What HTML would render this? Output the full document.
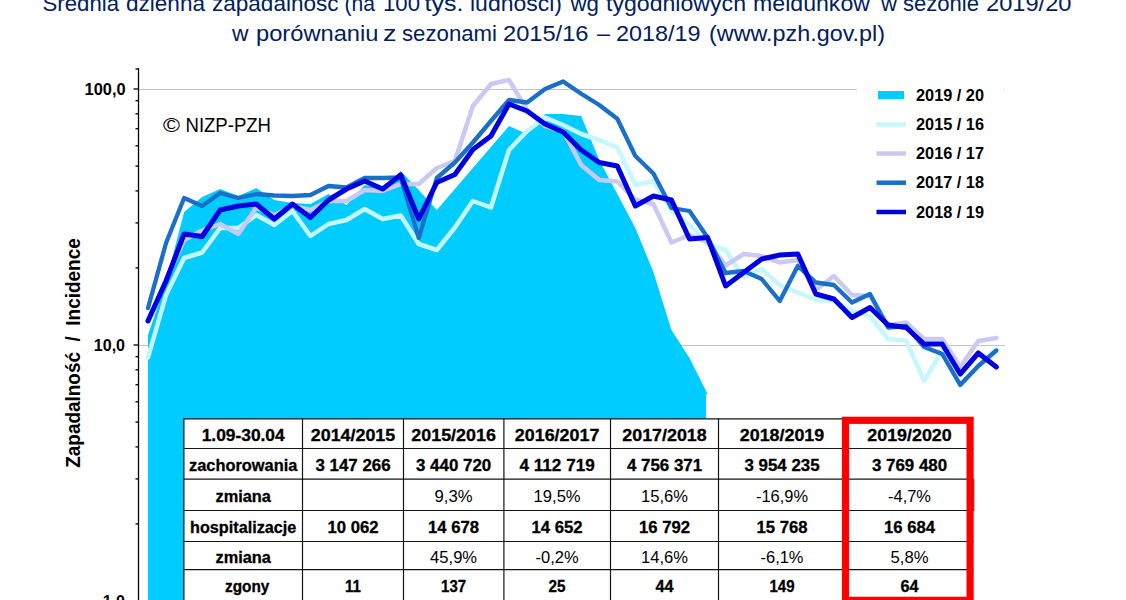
<!DOCTYPE html>
<html><head><meta charset="utf-8"><style>
html,body{margin:0;padding:0;background:#fff;width:1126px;height:600px;overflow:hidden}
svg{display:block;font-family:"Liberation Sans",sans-serif}
</style></head><body>
<svg width="1126" height="600" viewBox="0 0 1126 600">
<g font-size="22.3" fill="#002060"><text x="42.5" y="10.7" textLength="76.5" lengthAdjust="spacingAndGlyphs">Średnia</text><text x="126.0" y="10.7" textLength="79.0" lengthAdjust="spacingAndGlyphs">dzienna</text><text x="212.0" y="10.7" textLength="126.5" lengthAdjust="spacingAndGlyphs">zapadalność</text><text x="344.5" y="10.7" textLength="30.5" lengthAdjust="spacingAndGlyphs">(na</text><text x="383.0" y="10.7" textLength="37.0" lengthAdjust="spacingAndGlyphs">100</text><text x="424.5" y="10.7" textLength="39.0" lengthAdjust="spacingAndGlyphs">tys.</text><text x="470.0" y="10.7" textLength="92.0" lengthAdjust="spacingAndGlyphs">ludności)</text><text x="570.5" y="10.7" textLength="28.5" lengthAdjust="spacingAndGlyphs">wg</text><text x="606.0" y="10.7" textLength="140.0" lengthAdjust="spacingAndGlyphs">tygodniowych</text><text x="753.0" y="10.7" textLength="117.0" lengthAdjust="spacingAndGlyphs">meldunków</text><text x="881.0" y="10.7" textLength="16.0" lengthAdjust="spacingAndGlyphs">w</text><text x="903.0" y="10.7" textLength="76.0" lengthAdjust="spacingAndGlyphs">sezonie</text><text x="986.0" y="10.7" textLength="85.5" lengthAdjust="spacingAndGlyphs">2019/20</text><text x="232.0" y="40.7" textLength="16.5" lengthAdjust="spacingAndGlyphs">w</text><text x="256.0" y="40.7" textLength="122.5" lengthAdjust="spacingAndGlyphs">porównaniu</text><text x="383.0" y="40.7" textLength="13.5" lengthAdjust="spacingAndGlyphs">z</text><text x="402.0" y="40.7" textLength="95.0" lengthAdjust="spacingAndGlyphs">sezonami</text><text x="503.0" y="40.7" textLength="85.5" lengthAdjust="spacingAndGlyphs">2015/16</text><text x="597.0" y="40.7" textLength="13.0" lengthAdjust="spacingAndGlyphs">–</text><text x="616.0" y="40.7" textLength="84.5" lengthAdjust="spacingAndGlyphs">2018/19</text><text x="709.0" y="40.7" textLength="176.0" lengthAdjust="spacingAndGlyphs">(www.pzh.gov.pl)</text></g>

<line x1="139" y1="89.5" x2="1005" y2="89.5" stroke="#c4c4c4" stroke-width="1.2"/>
<line x1="139" y1="345.5" x2="1005" y2="345.5" stroke="#c4c4c4" stroke-width="1.2"/>
<polygon points="148.00,335.00 166.05,282.00 184.10,212.00 202.15,197.00 220.20,189.00 238.25,196.00 256.30,188.00 274.35,200.00 292.40,203.00 310.45,204.00 328.50,194.00 346.55,205.00 364.60,185.00 382.65,189.00 400.70,171.00 418.75,190.00 436.80,210.00 454.85,189.00 472.90,168.00 490.95,147.00 509.00,126.00 527.05,134.00 545.10,114.00 563.15,114.00 581.20,116.00 599.25,160.00 617.30,194.00 635.35,228.00 653.40,272.00 671.45,330.00 689.50,358.00 707.55,394.00 706,394 706,601 148.0,601" fill="#00ccff"/>
<polyline points="148.00,357.50 166.05,295.00 184.10,258.00 202.15,252.50 220.20,228.00 238.25,228.00 256.30,215.00 274.35,225.00 292.40,211.00 310.45,236.00 328.50,224.00 346.55,220.00 364.60,209.00 382.65,219.00 400.70,215.50 418.75,244.00 436.80,250.00 454.85,227.50 472.90,201.00 490.95,207.50 509.00,150.00 527.05,131.00 545.10,117.50 563.15,125.00 581.20,134.00 599.25,140.00 617.30,147.50 635.35,185.00 653.40,181.00 671.45,210.00 689.50,225.00 707.55,244.00 725.60,250.00 743.65,277.50 761.70,269.00 779.75,285.00 797.80,292.50 815.85,300.00 833.90,301.00 851.95,311.00 870.00,316.00 888.05,339.00 906.10,340.50 924.15,381.00 942.20,350.00 960.25,384.00 978.30,366.00 996.35,349.00" fill="none" stroke="#c6f7ff" stroke-width="4.5" stroke-linejoin="round" stroke-linecap="round"/>
<polyline points="148.00,320.00 166.05,280.00 184.10,240.00 202.15,230.50 220.20,224.00 238.25,234.00 256.30,207.50 274.35,215.00 292.40,206.00 310.45,210.00 328.50,201.00 346.55,201.00 364.60,190.00 382.65,191.00 400.70,184.00 418.75,184.00 436.80,168.00 454.85,161.00 472.90,106.00 490.95,84.00 509.00,80.00 527.05,110.00 545.10,126.00 563.15,131.00 581.20,165.00 599.25,180.00 617.30,181.50 635.35,199.50 653.40,204.00 671.45,242.50 689.50,235.00 707.55,242.00 725.60,265.50 743.65,254.00 761.70,256.00 779.75,262.50 797.80,260.00 815.85,290.00 833.90,276.00 851.95,295.00 870.00,296.00 888.05,325.00 906.10,322.50 924.15,339.00 942.20,339.00 960.25,367.00 978.30,341.00 996.35,338.00" fill="none" stroke="#c9c9f4" stroke-width="4.5" stroke-linejoin="round" stroke-linecap="round"/>
<polyline points="148.00,308.00 166.05,243.00 184.10,198.00 202.15,206.00 220.20,193.00 238.25,198.00 256.30,194.00 274.35,195.50 292.40,196.00 310.45,195.00 328.50,186.00 346.55,187.50 364.60,178.00 382.65,178.00 400.70,177.50 418.75,238.00 436.80,178.00 454.85,162.50 472.90,142.50 490.95,121.00 509.00,100.00 527.05,102.50 545.10,89.00 563.15,81.50 581.20,93.75 599.25,105.00 617.30,118.75 635.35,156.00 653.40,173.50 671.45,208.00 689.50,211.00 707.55,237.50 725.60,273.00 743.65,271.00 761.70,279.00 779.75,301.00 797.80,266.00 815.85,282.50 833.90,285.00 851.95,302.50 870.00,294.00 888.05,327.50 906.10,326.00 924.15,347.00 942.20,354.00 960.25,385.00 978.30,366.00 996.35,350.50" fill="none" stroke="#1a6fc9" stroke-width="4.3" stroke-linejoin="round" stroke-linecap="round"/>
<polyline points="148.00,321.00 166.05,281.00 184.10,234.00 202.15,236.50 220.20,210.00 238.25,206.00 256.30,204.00 274.35,219.00 292.40,204.00 310.45,217.50 328.50,200.00 346.55,189.00 364.60,181.00 382.65,189.00 400.70,175.00 418.75,219.00 436.80,182.50 454.85,174.50 472.90,149.50 490.95,136.00 509.00,104.00 527.05,111.00 545.10,124.00 563.15,132.00 581.20,150.00 599.25,162.50 617.30,166.00 635.35,206.00 653.40,196.00 671.45,200.00 689.50,239.00 707.55,237.50 725.60,286.00 743.65,272.50 761.70,259.00 779.75,255.00 797.80,254.00 815.85,294.00 833.90,299.00 851.95,317.50 870.00,307.50 888.05,325.00 906.10,327.50 924.15,344.00 942.20,344.00 960.25,374.00 978.30,353.00 996.35,367.00" fill="none" stroke="#0000e0" stroke-width="5" stroke-linejoin="round" stroke-linecap="round"/>
<line x1="138.5" y1="68" x2="138.5" y2="600" stroke="#000" stroke-width="1.3"/>
<line x1="135.5" y1="69.0" x2="138.5" y2="69.0" stroke="#000" stroke-width="1.3"/><line x1="133.5" y1="89.0" x2="138.5" y2="89.0" stroke="#000" stroke-width="1.3"/><line x1="133.5" y1="345.0" x2="138.5" y2="345.0" stroke="#000" stroke-width="1.3"/><line x1="133.5" y1="601.0" x2="138.5" y2="601.0" stroke="#000" stroke-width="1.3"/><line x1="135.5" y1="267.9" x2="138.5" y2="267.9" stroke="#000" stroke-width="1.3"/><line x1="135.5" y1="222.9" x2="138.5" y2="222.9" stroke="#000" stroke-width="1.3"/><line x1="135.5" y1="190.9" x2="138.5" y2="190.9" stroke="#000" stroke-width="1.3"/><line x1="135.5" y1="166.1" x2="138.5" y2="166.1" stroke="#000" stroke-width="1.3"/><line x1="135.5" y1="145.8" x2="138.5" y2="145.8" stroke="#000" stroke-width="1.3"/><line x1="135.5" y1="128.7" x2="138.5" y2="128.7" stroke="#000" stroke-width="1.3"/><line x1="135.5" y1="113.8" x2="138.5" y2="113.8" stroke="#000" stroke-width="1.3"/><line x1="135.5" y1="100.7" x2="138.5" y2="100.7" stroke="#000" stroke-width="1.3"/><line x1="135.5" y1="523.9" x2="138.5" y2="523.9" stroke="#000" stroke-width="1.3"/><line x1="135.5" y1="478.9" x2="138.5" y2="478.9" stroke="#000" stroke-width="1.3"/><line x1="135.5" y1="446.9" x2="138.5" y2="446.9" stroke="#000" stroke-width="1.3"/><line x1="135.5" y1="422.1" x2="138.5" y2="422.1" stroke="#000" stroke-width="1.3"/><line x1="135.5" y1="401.8" x2="138.5" y2="401.8" stroke="#000" stroke-width="1.3"/><line x1="135.5" y1="384.7" x2="138.5" y2="384.7" stroke="#000" stroke-width="1.3"/><line x1="135.5" y1="369.8" x2="138.5" y2="369.8" stroke="#000" stroke-width="1.3"/><line x1="135.5" y1="356.7" x2="138.5" y2="356.7" stroke="#000" stroke-width="1.3"/>
<text x="125.6" y="94.5" text-anchor="end" font-weight="bold" font-size="16" textLength="41" lengthAdjust="spacingAndGlyphs">100,0</text>
<text x="125" y="351" text-anchor="end" font-weight="bold" font-size="16">10,0</text>
<text x="125" y="607" text-anchor="end" font-weight="bold" font-size="16">1,0</text>
<text x="163" y="131.8" font-size="21" textLength="17" lengthAdjust="spacingAndGlyphs">©</text><text x="185.5" y="131.8" font-size="19.5" textLength="85.5" lengthAdjust="spacingAndGlyphs">NIZP-PZH</text>
<text transform="translate(79.7,467.8) rotate(-90)" font-weight="bold" font-size="20" textLength="229.5" lengthAdjust="spacingAndGlyphs" xml:space="preserve">Zapadalność  /  Incidence</text>
<rect x="857" y="75" width="147" height="160" fill="#fff"/><rect x="878" y="91" width="26" height="8" fill="#00ccff"/><line x1="876.5" y1="124.6" x2="906" y2="124.6" stroke="#c6f7ff" stroke-width="4.5"/><line x1="876.5" y1="153.5" x2="906" y2="153.5" stroke="#c9c9f4" stroke-width="4.5"/><line x1="876.5" y1="182.7" x2="906" y2="182.7" stroke="#1a6fc9" stroke-width="4.5"/><line x1="876.5" y1="212" x2="906" y2="212" stroke="#0000e0" stroke-width="4.5"/><text x="916" y="100.6" font-weight="bold" font-size="16" textLength="68" lengthAdjust="spacingAndGlyphs">2019 / 20</text><text x="916" y="130.2" font-weight="bold" font-size="16" textLength="68" lengthAdjust="spacingAndGlyphs">2015 / 16</text><text x="916" y="159.1" font-weight="bold" font-size="16" textLength="68" lengthAdjust="spacingAndGlyphs">2016 / 17</text><text x="916" y="188.29999999999998" font-weight="bold" font-size="16" textLength="68" lengthAdjust="spacingAndGlyphs">2017 / 18</text><text x="916" y="217.6" font-weight="bold" font-size="16" textLength="68" lengthAdjust="spacingAndGlyphs">2018 / 19</text>
<rect x="184" y="419" width="785.5" height="181" fill="#fff"/><line x1="183.4" y1="418.9" x2="973.5" y2="418.9" stroke="#151515" stroke-width="1.2"/><line x1="183.4" y1="448.5" x2="973.5" y2="448.5" stroke="#151515" stroke-width="1.2"/><line x1="183.4" y1="479.2" x2="973.5" y2="479.2" stroke="#151515" stroke-width="1.2"/><line x1="183.4" y1="510.5" x2="973.5" y2="510.5" stroke="#151515" stroke-width="1.2"/><line x1="183.4" y1="541.5" x2="973.5" y2="541.5" stroke="#151515" stroke-width="1.2"/><line x1="183.4" y1="569.6" x2="973.5" y2="569.6" stroke="#151515" stroke-width="1.2"/><line x1="183.9" y1="418.29999999999995" x2="183.9" y2="600" stroke="#151515" stroke-width="1.2"/><line x1="302.5" y1="418.29999999999995" x2="302.5" y2="600" stroke="#151515" stroke-width="1.2"/><line x1="403.5" y1="418.29999999999995" x2="403.5" y2="600" stroke="#151515" stroke-width="1.2"/><line x1="503.9" y1="418.29999999999995" x2="503.9" y2="600" stroke="#151515" stroke-width="1.2"/><line x1="610.5" y1="418.29999999999995" x2="610.5" y2="600" stroke="#151515" stroke-width="1.2"/><line x1="718.5" y1="418.29999999999995" x2="718.5" y2="600" stroke="#151515" stroke-width="1.2"/><line x1="845.5" y1="418.29999999999995" x2="845.5" y2="600" stroke="#151515" stroke-width="1.2"/><line x1="969.5" y1="418.29999999999995" x2="969.5" y2="600" stroke="#151515" stroke-width="1.2"/><text x="243.2" y="440.8" text-anchor="middle" font-weight="bold" stroke="#000" stroke-width="0.3" font-size="16.5" textLength="83" lengthAdjust="spacingAndGlyphs">1.09-30.04</text><text x="353.0" y="440.8" text-anchor="middle" font-weight="bold" stroke="#000" stroke-width="0.3" font-size="16.5" textLength="84.5" lengthAdjust="spacingAndGlyphs">2014/2015</text><text x="453.6" y="440.8" text-anchor="middle" font-weight="bold" stroke="#000" stroke-width="0.3" font-size="16.5" textLength="84.5" lengthAdjust="spacingAndGlyphs">2015/2016</text><text x="557.1" y="440.8" text-anchor="middle" font-weight="bold" stroke="#000" stroke-width="0.3" font-size="16.5" textLength="84.5" lengthAdjust="spacingAndGlyphs">2016/2017</text><text x="664.5" y="440.8" text-anchor="middle" font-weight="bold" stroke="#000" stroke-width="0.3" font-size="16.5" textLength="84.5" lengthAdjust="spacingAndGlyphs">2017/2018</text><text x="782.0" y="440.8" text-anchor="middle" font-weight="bold" stroke="#000" stroke-width="0.3" font-size="16.5" textLength="84.5" lengthAdjust="spacingAndGlyphs">2018/2019</text><text x="909.5" y="440.8" text-anchor="middle" font-weight="bold" stroke="#000" stroke-width="0.3" font-size="16.5" textLength="84.5" lengthAdjust="spacingAndGlyphs">2019/2020</text><text x="243.2" y="471.0" text-anchor="middle" font-weight="bold" stroke="#000" stroke-width="0.3" font-size="16.5" textLength="108.4" lengthAdjust="spacingAndGlyphs">zachorowania</text><text x="353.0" y="471.0" text-anchor="middle" font-weight="bold" stroke="#000" stroke-width="0.3" font-size="16.5" textLength="75.2" lengthAdjust="spacingAndGlyphs">3 147 266</text><text x="453.6" y="471.0" text-anchor="middle" font-weight="bold" stroke="#000" stroke-width="0.3" font-size="16.5" textLength="75.2" lengthAdjust="spacingAndGlyphs">3 440 720</text><text x="557.1" y="471.0" text-anchor="middle" font-weight="bold" stroke="#000" stroke-width="0.3" font-size="16.5" textLength="75.2" lengthAdjust="spacingAndGlyphs">4 112 719</text><text x="664.5" y="471.0" text-anchor="middle" font-weight="bold" stroke="#000" stroke-width="0.3" font-size="16.5" textLength="75.2" lengthAdjust="spacingAndGlyphs">4 756 371</text><text x="782.0" y="471.0" text-anchor="middle" font-weight="bold" stroke="#000" stroke-width="0.3" font-size="16.5" textLength="75.2" lengthAdjust="spacingAndGlyphs">3 954 235</text><text x="909.5" y="471.0" text-anchor="middle" font-weight="bold" stroke="#000" stroke-width="0.3" font-size="16.5" textLength="75.2" lengthAdjust="spacingAndGlyphs">3 769 480</text><text x="243.2" y="502.0" text-anchor="middle" font-weight="bold" stroke="#000" stroke-width="0.3" font-size="16.5" textLength="55.4" lengthAdjust="spacingAndGlyphs">zmiana</text><text x="453.6" y="502.0" text-anchor="middle" font-weight="normal" font-size="16.5" textLength="38" lengthAdjust="spacingAndGlyphs">9,3%</text><text x="557.1" y="502.0" text-anchor="middle" font-weight="normal" font-size="16.5" textLength="47" lengthAdjust="spacingAndGlyphs">19,5%</text><text x="664.5" y="502.0" text-anchor="middle" font-weight="normal" font-size="16.5" textLength="47" lengthAdjust="spacingAndGlyphs">15,6%</text><text x="782.0" y="502.0" text-anchor="middle" font-weight="normal" font-size="16.5" textLength="52" lengthAdjust="spacingAndGlyphs">-16,9%</text><text x="909.5" y="502.0" text-anchor="middle" font-weight="normal" font-size="16.5" textLength="43" lengthAdjust="spacingAndGlyphs">-4,7%</text><text x="243.2" y="533.2" text-anchor="middle" font-weight="bold" stroke="#000" stroke-width="0.3" font-size="16.5" textLength="106.3" lengthAdjust="spacingAndGlyphs">hospitalizacje</text><text x="353.0" y="533.2" text-anchor="middle" font-weight="bold" stroke="#000" stroke-width="0.3" font-size="16.5" textLength="51" lengthAdjust="spacingAndGlyphs">10 062</text><text x="453.6" y="533.2" text-anchor="middle" font-weight="bold" stroke="#000" stroke-width="0.3" font-size="16.5" textLength="51" lengthAdjust="spacingAndGlyphs">14 678</text><text x="557.1" y="533.2" text-anchor="middle" font-weight="bold" stroke="#000" stroke-width="0.3" font-size="16.5" textLength="51" lengthAdjust="spacingAndGlyphs">14 652</text><text x="664.5" y="533.2" text-anchor="middle" font-weight="bold" stroke="#000" stroke-width="0.3" font-size="16.5" textLength="51" lengthAdjust="spacingAndGlyphs">16 792</text><text x="782.0" y="533.2" text-anchor="middle" font-weight="bold" stroke="#000" stroke-width="0.3" font-size="16.5" textLength="51" lengthAdjust="spacingAndGlyphs">15 768</text><text x="909.5" y="533.2" text-anchor="middle" font-weight="bold" stroke="#000" stroke-width="0.3" font-size="16.5" textLength="51" lengthAdjust="spacingAndGlyphs">16 684</text><text x="243.2" y="562.9" text-anchor="middle" font-weight="bold" stroke="#000" stroke-width="0.3" font-size="16.5" textLength="55.4" lengthAdjust="spacingAndGlyphs">zmiana</text><text x="453.6" y="562.9" text-anchor="middle" font-weight="normal" font-size="16.5" textLength="47" lengthAdjust="spacingAndGlyphs">45,9%</text><text x="557.1" y="562.9" text-anchor="middle" font-weight="normal" font-size="16.5" textLength="43" lengthAdjust="spacingAndGlyphs">-0,2%</text><text x="664.5" y="562.9" text-anchor="middle" font-weight="normal" font-size="16.5" textLength="47" lengthAdjust="spacingAndGlyphs">14,6%</text><text x="782.0" y="562.9" text-anchor="middle" font-weight="normal" font-size="16.5" textLength="43" lengthAdjust="spacingAndGlyphs">-6,1%</text><text x="909.5" y="562.9" text-anchor="middle" font-weight="normal" font-size="16.5" textLength="38" lengthAdjust="spacingAndGlyphs">5,8%</text><text x="247.2" y="591.9" text-anchor="middle" font-weight="bold" stroke="#000" stroke-width="0.3" font-size="16.5" textLength="44.4" lengthAdjust="spacingAndGlyphs">zgony</text><text x="353.0" y="591.9" text-anchor="middle" font-weight="bold" stroke="#000" stroke-width="0.3" font-size="16.5" textLength="16" lengthAdjust="spacingAndGlyphs">11</text><text x="453.6" y="591.9" text-anchor="middle" font-weight="bold" stroke="#000" stroke-width="0.3" font-size="16.5" textLength="25" lengthAdjust="spacingAndGlyphs">137</text><text x="557.1" y="591.9" text-anchor="middle" font-weight="bold" stroke="#000" stroke-width="0.3" font-size="16.5" textLength="17" lengthAdjust="spacingAndGlyphs">25</text><text x="664.5" y="591.9" text-anchor="middle" font-weight="bold" stroke="#000" stroke-width="0.3" font-size="16.5" textLength="18" lengthAdjust="spacingAndGlyphs">44</text><text x="782.0" y="591.9" text-anchor="middle" font-weight="bold" stroke="#000" stroke-width="0.3" font-size="16.5" textLength="25" lengthAdjust="spacingAndGlyphs">149</text><text x="909.5" y="591.9" text-anchor="middle" font-weight="bold" stroke="#000" stroke-width="0.3" font-size="16.5" textLength="18" lengthAdjust="spacingAndGlyphs">64</text><line x1="973.8" y1="479" x2="973.8" y2="511" stroke="#222" stroke-width="1"/><rect x="845.5" y="420.3" width="124.6" height="180" fill="none" stroke="#ff0000" stroke-width="7.2"/>
</svg>
</body></html>
